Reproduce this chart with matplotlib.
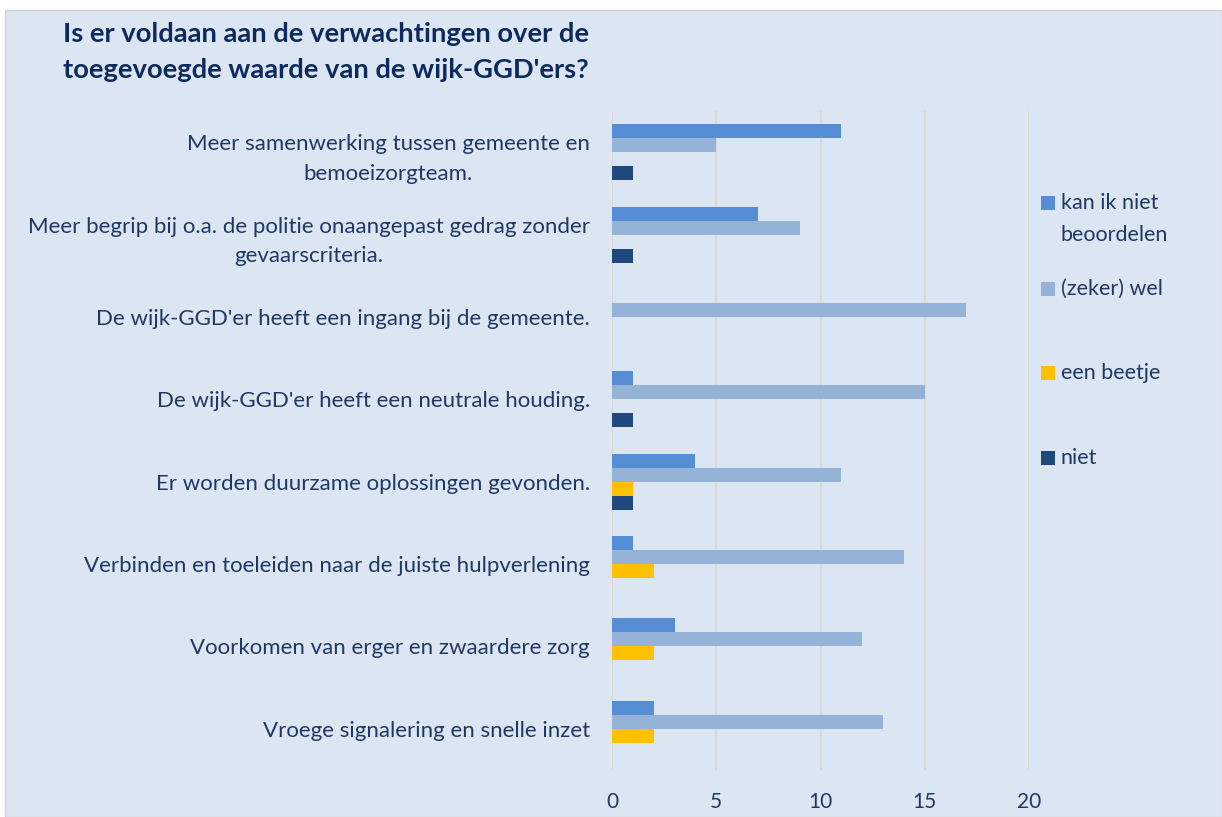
import matplotlib
matplotlib.use("Agg")

import matplotlib.pyplot as plt
import numpy as np
from matplotlib.patches import Rectangle

# Data, top to bottom as in the chart
categories = [
    "Meer samenwerking tussen gemeente en\nbemoeizorgteam.",
    "Meer begrip bij o.a. de politie onaangepast gedrag zonder\ngevaarscriteria.",
    "De wijk-GGD'er heeft een ingang bij de gemeente.",
    "De wijk-GGD'er heeft een neutrale houding.",
    "Er worden duurzame oplossingen gevonden.",
    "Verbinden en toeleiden naar de juiste hulpverlening",
    "Voorkomen van erger en zwaardere zorg",
    "Vroege signalering en snelle inzet",
]
series_names = ["kan ik niet\nbeoordelen", "(zeker) wel", "een beetje", "niet"]
kan_niet = [11, 7, 0, 1, 4, 1, 3, 2]
zeker_wel = [5, 9, 17, 15, 11, 14, 12, 13]
beetje = [0, 0, 0, 0, 1, 2, 2, 2]
niet = [1, 1, 0, 1, 1, 0, 0, 0]
x_ticks = [0, 5, 10, 15, 20]

colors = ["#558ed5", "#95b3d7", "#ffc000", "#1f497d"]
text_col = "#1f3864"
title_col = "#0d2a5e"
bg = "#dce6f2"

plt.rcParams["font.family"] = ["Lato", "DejaVu Sans"]

fig = plt.figure(figsize=(12.22, 8.17), dpi=100)
fig.patch.set_facecolor("white")
fig.patches.append(Rectangle((5 / 1222, 0), 1 - 5 / 1222, 1 - 10 / 817,
                             transform=fig.transFigure, facecolor=bg,
                             edgecolor="#d0d0d0", linewidth=1, zorder=-10))

ax = fig.add_axes([612 / 1222, 1 - 770 / 817, (1029 - 612) / 1222, (770 - 111) / 817])
ax.set_facecolor("none")

n = len(categories)
y = np.arange(n)
bh = 0.17
all_series = [kan_niet, zeker_wel, beetje, niet]
for i, vals in enumerate(all_series):
    offs = (i - 1.5) * bh
    ax.barh(y + offs, vals, height=bh, color=colors[i], zorder=3)

ax.set_ylim(n - 0.5, -0.5)
ax.set_xlim(0, 20)
ax.set_xticks(x_ticks)
ax.set_xticklabels([str(t) for t in x_ticks], fontsize=15, color=text_col)
ax.tick_params(axis="x", length=0, pad=16)
ax.set_yticks(y)
ax.set_yticklabels(categories, fontsize=16, color=text_col, linespacing=1.62,
                   multialignment="center")
ax.tick_params(axis="y", length=0, pad=16)
ax.grid(axis="x", color="#d9d9d9", linewidth=1.5, zorder=0)
for s in ax.spines.values():
    s.set_visible(False)

fig.text(326 / 1222, 1 - 52 / 817,
         "Is er voldaan aan de verwachtingen over de\ntoegevoegde waarde van de wijk-GGD'ers?",
         ha="center", va="center", fontsize=19.7, fontweight="bold",
         color=title_col, linespacing=1.55)

# legend drawn by hand to mimic the spaced layout
leg_y = [203, 289, 373, 458]
for i, name in enumerate(series_names):
    yy = leg_y[i]
    fig.patches.append(Rectangle((1041 / 1222, 1 - (yy + 7) / 817), 14 / 1222, 14 / 817,
                                 transform=fig.transFigure, facecolor=colors[i],
                                 edgecolor="none", zorder=5))
    for k, line in enumerate(name.split("\n")):
        fig.text(1061 / 1222, 1 - (yy + 32 * k) / 817, line, ha="left", va="center",
                 fontsize=15.5, color=text_col)

fig.savefig("out.png", dpi=100)
